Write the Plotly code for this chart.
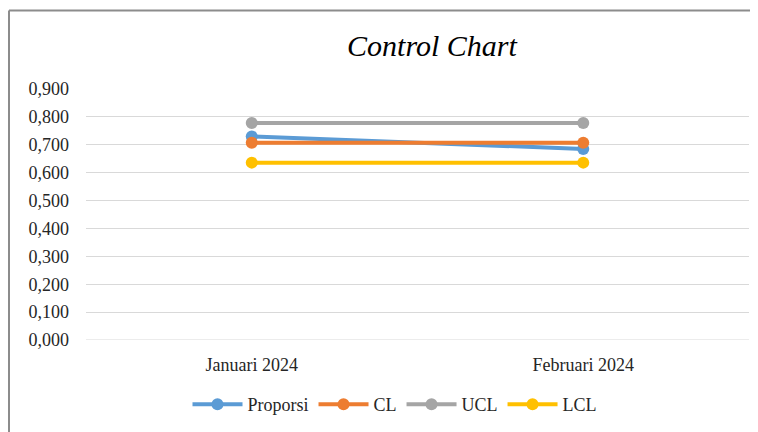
import plotly.graph_objects as go

categories = ["Januari 2024", "Februari 2024"]
proporsi = [0.730, 0.685]
cl = [0.707, 0.707]
ucl = [0.778, 0.778]
lcl = [0.636, 0.636]
y_ticks = [0.0, 0.1, 0.2, 0.3, 0.4, 0.5, 0.6, 0.7, 0.8, 0.9]

series = [
    ("Proporsi", proporsi, "#5B9BD5"),
    ("CL", cl, "#ED7D31"),
    ("UCL", ucl, "#A5A5A5"),
    ("LCL", lcl, "#FFC000"),
]

fig = go.Figure()
for name, vals, color in series:
    fig.add_trace(go.Scatter(
        x=[0, 1], y=vals, name=name, mode="lines+markers",
        line=dict(color=color, width=4),
        marker=dict(color=color, size=12),
    ))

# page has an 8px body margin; coordinates below are in reference pixels
OFF = 8
PL, PR, PT, PB = 86, 749, 89, 342
PW, PH = PR - PL, PB - PT

def px(x):
    return (x - PL) / PW

def py(y):
    return (PB - y) / PH

font_family = "Liberation Serif, Times New Roman, serif"
fig.update_layout(
    width=758 - OFF, height=432 - OFF,
    margin=dict(l=PL - OFF, r=(758 - OFF) - (PR - OFF), t=PT - OFF, b=(432 - OFF) - (PB - OFF)),
    paper_bgcolor="white", plot_bgcolor="white",
    separators=",.",
    font=dict(family=font_family, size=18, color="#262626"),
    title=dict(text="<i>Control Chart</i>", x=px(432), xref="paper",
               xanchor="center", y=1 - (45 - OFF) / (432 - OFF), yanchor="middle",
               font=dict(family=font_family, size=30, color="#000000")),
    showlegend=True,
    legend=dict(orientation="h", x=px(395), xanchor="center", y=py(407),
                yanchor="middle", font=dict(family=font_family, size=18, color="#262626"),
                itemwidth=50, traceorder="normal"),
    xaxis=dict(range=[-0.5, 1.5], tickvals=[0, 1], ticktext=categories,
               showgrid=False, zeroline=False, showline=False, ticks="",
               ticklabelstandoff=12),
    yaxis=dict(range=[0, 0.9], tickvals=y_ticks, tickformat=".3f",
               showgrid=True, gridcolor="#D9D9D9", gridwidth=1,
               zeroline=False, showline=False, ticks="",
               ticklabelstandoff=16),
    shapes=[
        dict(type="line", xref="paper", yref="paper",
             x0=px(9), x1=px(9), y0=py(10), y1=-0.5,
             line=dict(color="#8C8C8C", width=2)),
        dict(type="line", xref="paper", yref="paper",
             x0=px(9), x1=px(757), y0=py(10), y1=py(10),
             line=dict(color="#8C8C8C", width=2)),
        dict(type="line", xref="paper", yref="paper",
             x0=px(757), x1=px(757), y0=py(10), y1=-0.5,
             line=dict(color="#8C8C8C", width=2)),
        dict(type="line", xref="paper", yref="y", x0=0, x1=1, y0=0, y1=0,
             line=dict(color="#D9D9D9", width=1), layer="below"),
    ],
)

fig.write_html("out.html")
